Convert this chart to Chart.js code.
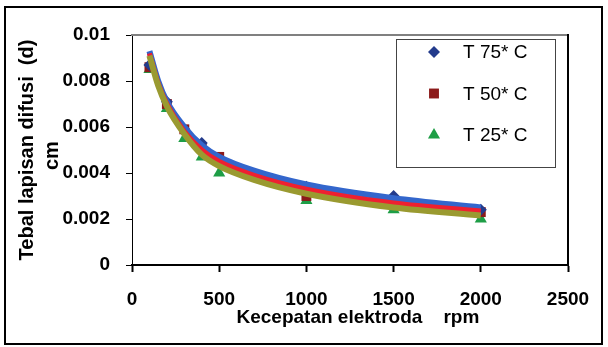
<!DOCTYPE html>
<html lang="id">
<head>
<meta charset="UTF-8" />
<title>Tebal lapisan difusi</title>
<script src="https://cdn.jsdelivr.net/npm/chart.js"></script>
<style>
  body { margin: 0; background: #fff; }
  #wrap { position: relative; width: 608px; height: 347px; }
  #frame { position: absolute; left: 4px; top: 6px; width: 599px; height: 339px;
           border: 2px solid #000; box-sizing: border-box; pointer-events: none; }
</style>
</head>
<body>
<div id="wrap">
  <canvas id="chart" width="608" height="347"></canvas>
  <div id="frame"></div>
</div>
<script>
  // measured points (rpm -> d in cm)
  const rpm = [100, 200, 300, 400, 500, 1000, 1500, 2000];
  const t75 = [0.0087, 0.0071, 0.0059, 0.0053, 0.0046, 0.0034, 0.0030, 0.0024];
  const t50 = [0.0086, 0.0070, 0.0059, 0.0051, 0.0047, 0.0030, 0.0027, 0.0023];
  const t25 = [0.0085, 0.0068, 0.0055, 0.0047, 0.0040, 0.0028, 0.0024, 0.0020];

  // trend lines
  const trendRpm = [100, 150, 200, 300, 400, 500, 700, 1000, 1500, 2000];
  const trend75 = [0.0093, 0.0080, 0.0071, 0.0060, 0.0052, 0.0047, 0.0041, 0.0035, 0.0029, 0.0025];
  const trend50 = [0.0092, 0.0079, 0.0070, 0.0058, 0.0050, 0.0045, 0.0039, 0.0033, 0.0027, 0.00235];
  const trend25 = [0.0091, 0.0078, 0.0069, 0.0057, 0.0048, 0.0043, 0.0037, 0.0031, 0.0025, 0.00215];

  const seriesLabels = ['T 75* C', 'T 50* C', 'T 25* C'];
  const yTickLabels = ['0', '0.002', '0.004', '0.006', '0.008', '0.01'];
  const xTickLabels = ['0', '500', '1000', '1500', '2000', '2500'];

  const pts = (xs, ys) => ys.map((v, i) => ({ x: xs[i], y: v }));

  Chart.defaults.font.family = '"Liberation Sans", Arial, sans-serif';
  Chart.defaults.color = '#000';

  const tickFont = { size: 19, weight: 'bold' };

  // legend drawn as a box inside the plot, like the original
  const boxLegend = {
    id: 'boxLegend',
    afterDraw(chart) {
      const ctx = chart.ctx;
      const a = chart.chartArea;
      const left = a.left + 264, top = a.top + 4, w = 159, h = 128;
      ctx.save();
      ctx.fillStyle = '#fff';
      ctx.fillRect(left, top, w, h);
      ctx.strokeStyle = '#444';
      ctx.lineWidth = 1;
      ctx.strokeRect(left + 0.5, top + 0.5, w, h);
      ctx.font = '19px "Liberation Sans", Arial, sans-serif';
      ctx.textBaseline = 'middle';
      chart.data.datasets.slice(0, 3).forEach((d, i) => {
        const y = top + 13 + i * 41.5;
        ctx.fillStyle = d.backgroundColor;
        Chart.helpers.drawPoint(ctx, { pointStyle: d.pointStyle, radius: d.pointRadius, borderWidth: 0 }, left + 38, y);
        ctx.fillStyle = '#000';
        ctx.fillText(d.label, left + 67, y + 1);
      });
      ctx.restore();
    }
  };

  const markerSet = (label, ys, style, radius, color) => ({
    label, data: pts(rpm, ys), showLine: false,
    pointStyle: style, pointRadius: radius, pointBorderWidth: 0,
    backgroundColor: color, borderColor: color, order: 10
  });
  const trendSet = (ys, color, width, order) => ({
    label: '', data: pts(trendRpm, ys), showLine: true, pointRadius: 0,
    borderColor: color, borderWidth: width, cubicInterpolationMode: 'monotone',
    fill: false, order
  });

  new Chart(document.getElementById('chart'), {
    type: 'scatter',
    data: {
      datasets: [
        markerSet(seriesLabels[0], t75, 'rectRot', 6, '#233b8c'),
        markerSet(seriesLabels[1], t50, 'rect', 7, '#8c1a1a'),
        markerSet(seriesLabels[2], t25, 'triangle', 7, '#1e9e46'),
        trendSet(trend75, '#3366cc', 6, 3),
        trendSet(trend50, '#ee2030', 5, 2),
        trendSet(trend25, '#9a9a30', 6, 1)
      ]
    },
    options: {
      responsive: false,
      animation: false,
      devicePixelRatio: 1,
      layout: { padding: { left: 0, right: 40, top: 35, bottom: 0 } },
      plugins: { legend: { display: false }, tooltip: { enabled: false } },
      scales: {
        x: {
          type: 'linear', min: 0, max: 2500,
          ticks: { stepSize: 500, padding: 16, font: tickFont, maxRotation: 0,
                   callback: (v, i) => xTickLabels[i] },
          grid: { drawOnChartArea: false, tickLength: 7, tickColor: '#000', tickWidth: 2 },
          border: { color: '#000', width: 2 },
          title: { display: true, text: '   Kecepatan elektroda    rpm', font: tickFont,
                   padding: { top: 0, bottom: 18 } },
          afterFit(s) { s.height = 82; }
        },
        y: {
          min: 0, max: 0.01,
          ticks: { stepSize: 0.002, padding: 16, font: tickFont,
                   callback: (v, i) => yTickLabels[i] },
          grid: { drawOnChartArea: false, tickLength: 6, tickColor: '#000', tickWidth: 1 },
          border: { color: '#000', width: 1 },
          title: { display: true, text: ['Tebal lapisan difusi  (d)', 'cm  '],
                   font: { size: 20, weight: 'bold', lineHeight: 1.25 },
                   padding: { top: 15, bottom: 0 } },
          afterFit(s) { s.width = 132; }
        },
        xTop: {
          position: 'top', type: 'linear',
          ticks: { display: false },
          grid: { drawOnChartArea: false, drawTicks: false },
          border: { color: '#808080', width: 2 },
          afterFit(s) { s.height = 0; }
        },
        yRight: {
          position: 'right', type: 'linear',
          ticks: { display: false },
          grid: { drawOnChartArea: false, drawTicks: false },
          border: { color: '#000', width: 2 },
          afterFit(s) { s.width = 0; }
        }
      }
    },
    plugins: [boxLegend]
  });
</script>
</body>
</html>
